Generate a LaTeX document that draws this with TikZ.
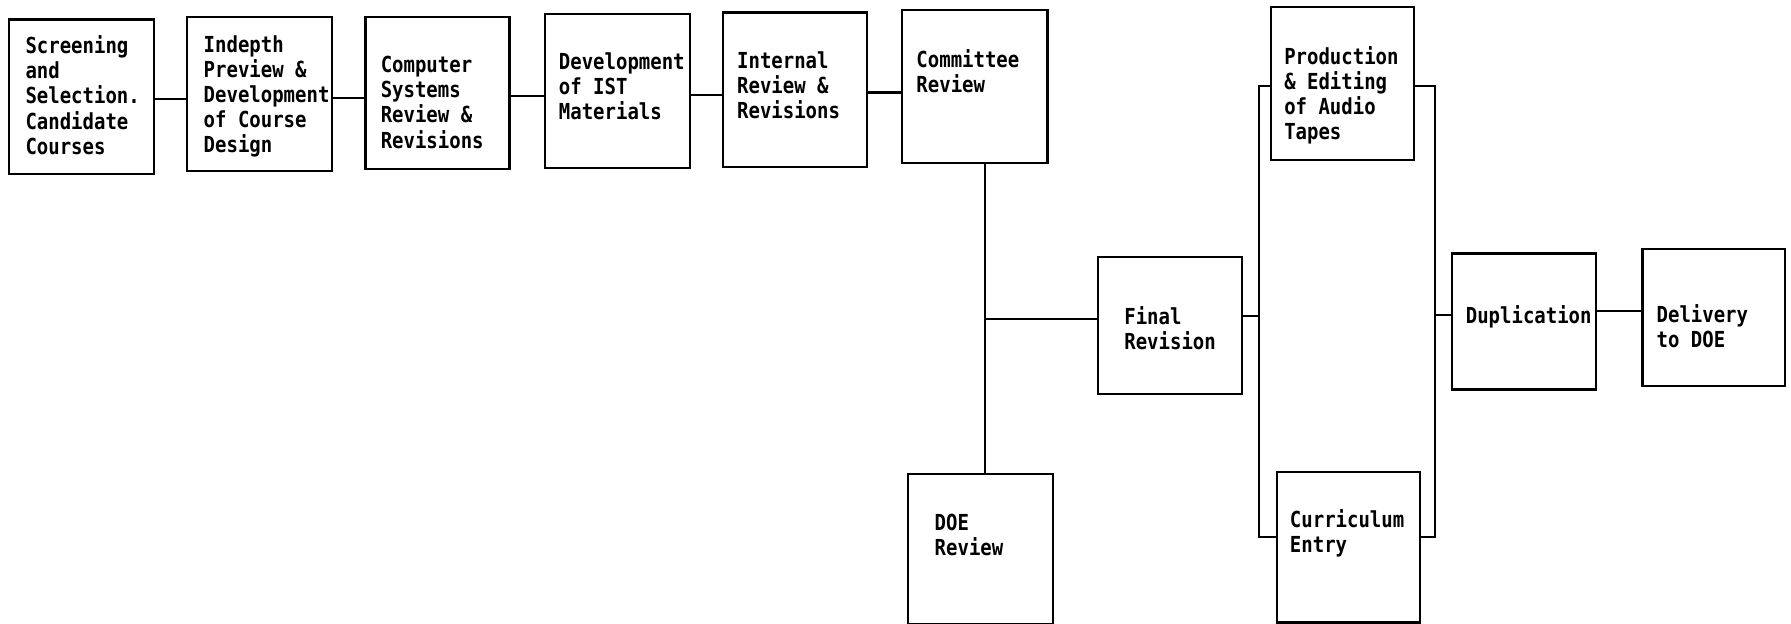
\documentclass[tikz,border=0pt]{standalone}
\usepackage{fontspec}
\newfontfamily\dotfont[FakeStretch=0.86]{DejaVu Sans Mono}
\usetikzlibrary{fit}
\begin{document}
\begin{tikzpicture}[x=0.02cm,y=-0.02cm,
  box/.style={draw, line width=1.1pt, inner sep=0pt},
  txt/.style={anchor=north west, inner sep=0pt, align=left, font=\dotfont\bfseries\fontsize{11}{12.5}\selectfont},
  conn/.style={line width=1.1pt}]
\useasboundingbox (0,0) rectangle (1568,546);
% boxes
\node[box, fit={(8,17) (135,152)}] (b1) {};
\node[box, fit={(164,15) (291,150)}] (b2) {};
\node[box, fit={(320,15) (446,148)}] (b3) {};
\node[box, fit={(477,12) (604,147)}] (b4) {};
\node[box, fit={(633,11) (759,146)}] (b5) {};
\node[box, fit={(790,9) (917,143)}] (b6) {};
\node[box, fit={(795,415) (922,546)}] (b7) {};
\node[box, fit={(961,225) (1087,345)}] (b8) {};
\node[box, fit={(1113,6) (1238,140)}] (b9) {};
\node[box, fit={(1118,413) (1243,545)}] (b10) {};
\node[box, fit={(1271,222) (1397,341)}] (b11) {};
\node[box, fit={(1438,218) (1563,338)}] (b12) {};
% texts
\node[txt] (t1) at (22,31) {Screening\\and\\Selection.\\Candidate\\Courses};
\node[txt] (t2) at (178,31) {Indepth\\Preview \&\\Development\\of Course\\Design};
\node[txt] (t3) at (333,49) {Computer\\Systems\\Review \&\\Revisions};
\node[txt] (t4) at (489,46) {Development\\of IST\\Materials};
\node[txt] (t5) at (645,45) {Internal\\Review \&\\Revisions};
\node[txt] (t6) at (802,43) {Committee\\Review};
\node[txt] (t7) at (818,450) {DOE\\Review};
\node[txt] (t8) at (984,268) {Final\\Revision};
\node[txt] (t9) at (1124,40) {Production\\\& Editing\\of Audio\\Tapes};
\node[txt] (t10) at (1129,446) {Curriculum\\Entry};
\node[txt] (t11) at (1283,267) {Duplication};
\node[txt] (t12) at (1450,266) {Delivery\\to DOE};
% connectors
\draw[conn] (b1.east |- 0,87) -- (b2.west |- 0,87);
\draw[conn] (b2.east |- 0,86) -- (b3.west |- 0,86);
\draw[conn] (b3.east |- 0,84) -- (b4.west |- 0,84);
\draw[conn] (b4.east |- 0,83) -- (b5.west |- 0,83);
\draw[conn] (b5.east |- 0,81) -- (b6.west |- 0,81);
\coordinate (j1) at (862,279);
\draw[conn] (b6.south -| j1) -- (b7.north -| j1);
\draw[conn] (j1) -- (b8.west |- j1);
\coordinate (lb) at (1102,277);
\coordinate (rb) at (1256,276);
\draw[conn] (b8.east |- lb) -- (lb);
\draw[conn] (b9.west |- 0,75) -- (lb |- 0,75) -- (lb |- 0,470) -- (b10.west |- 0,470);
\draw[conn] (b9.east |- 0,75) -- (rb |- 0,75) -- (rb |- 0,470) -- (b10.east |- 0,470);
\draw[conn] (rb) -- (b11.west |- rb);
\draw[conn] (b11.east |- 0,272) -- (b12.west |- 0,272);
\end{tikzpicture}
\end{document}
